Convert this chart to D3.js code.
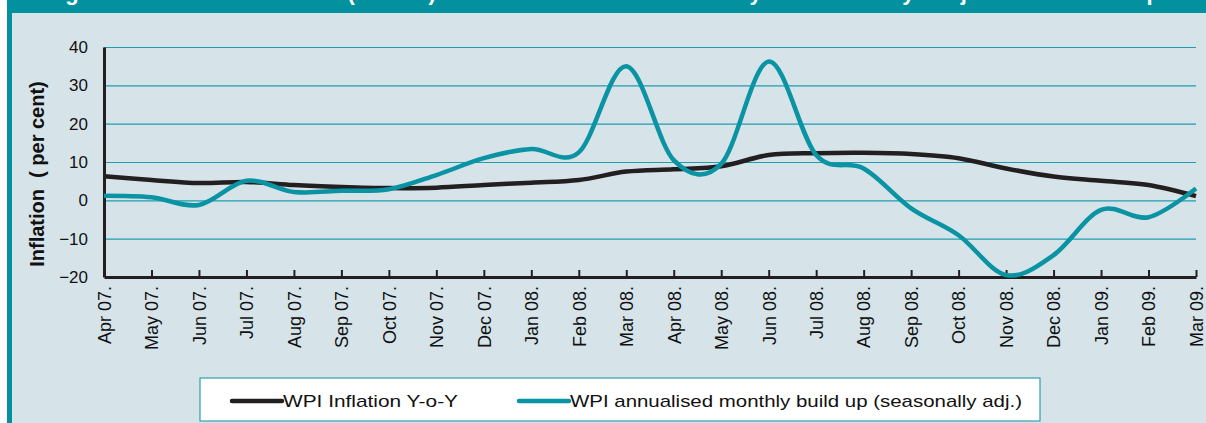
<!DOCTYPE html>
<html>
<head>
<meta charset="utf-8">
<script src="https://cdn.jsdelivr.net/npm/d3@7"></script>
<style>
  body { margin: 0; background: #ffffff; }
  svg { display: block; font-family: Arial, "Liberation Sans", sans-serif; }
</style>
</head>
<body>
<script>
// Chart data
var months = ["Apr 07.", "May 07.", "Jun 07.", "Jul 07.", "Aug 07.", "Sep 07.", "Oct 07.", "Nov 07.",
  "Dec 07.", "Jan 08.", "Feb 08.", "Mar 08.", "Apr 08.", "May 08.", "Jun 08.", "Jul 08.", "Aug 08.",
  "Sep 08.", "Oct 08.", "Nov 08.", "Dec 08.", "Jan 09.", "Feb 09.", "Mar 09."];

var wpiYoY = [6.3, 5.3, 4.5, 4.8, 4.0, 3.5, 3.2, 3.3, 4.0, 4.6, 5.3, 7.5,
  8.1, 8.9, 11.8, 12.3, 12.4, 12.1, 11.0, 8.3, 6.2, 5.1, 4.0, 1.1];

var wpiBuildUp = [1.2, 0.8, -1.2, 5.1, 2.2, 2.5, 2.9, 6.6, 11.0, 13.4, 12.5, 35.0,
  10.5, 9.5, 36.2, 11.8, 8.3, -2.1, -9.1, -19.5, -14.3, -2.5, -4.4, 3.1];

var yTicks = [40, 30, 20, 10, 0, -10, -20];
var seriesNames = ["WPI Inflation Y-o-Y", "WPI annualised monthly build up (seasonally adj.)"];
var titleText = "Figure 1: WPI Inflation (Y-o-Y) and Annualised Monthly Seasonally Adjusted Build up";

// Chart Params
var svgWidth = 1206;
var svgHeight = 423;
var margin = { top: 47, right: 10, bottom: 146, left: 104 };
var width = 1092;
var height = 230;

var teal = "#03909f";
var tealLine = "#0a93a3";
var gridColor = "#1f9cad";

var svg = d3.select("body")
  .append("svg")
  .attr("width", svgWidth)
  .attr("height", svgHeight);

// backdrop, frame and title bar (title is cut off at the top, as in the source)
svg.append("rect")
  .attr("x", 7).attr("y", 0)
  .attr("width", svgWidth - 7).attr("height", svgHeight)
  .attr("fill", "#d6e4ea");

svg.append("rect")
  .attr("x", 7).attr("y", 0)
  .attr("width", 5).attr("height", svgHeight)
  .attr("fill", teal);

svg.append("clipPath").attr("id", "titleClip")
  .append("rect").attr("x", 7).attr("y", 0).attr("width", svgWidth - 7).attr("height", 13);

var titleGroup = svg.append("g").attr("clip-path", "url(#titleClip)");
titleGroup.append("rect")
  .attr("x", 7).attr("y", 0)
  .attr("width", svgWidth - 7).attr("height", 13)
  .attr("fill", teal);
titleGroup.append("text")
  .attr("x", 40).attr("y", 0)
  .attr("fill", "#ffffff")
  .style("font-size", "22px")
  .style("font-weight", "bold")
  .attr("textLength", 1120)
  .attr("lengthAdjust", "spacing")
  .text(titleText);

var chartGroup = svg.append("g")
  .attr("transform", `translate(${margin.left}, ${margin.top})`);

// Scales
var xScale = d3.scalePoint().domain(months).range([0, width]);
var yScale = d3.scaleLinear().domain([-20, 40]).range([height, 0]);

// Gridlines
chartGroup.append("g")
  .attr("class", "grid")
  .call(d3.axisLeft(yScale).tickValues(yTicks.filter(d => d > -20)).tickSize(-width).tickFormat(""))
  .call(g => g.select(".domain").remove())
  .call(g => g.selectAll("line").attr("stroke", gridColor).attr("stroke-width", 1.2));

// Y axis
chartGroup.append("g")
  .call(d3.axisLeft(yScale).tickValues(yTicks).tickSize(0).tickPadding(16))
  .call(g => g.select(".domain").attr("stroke", "#231f20").attr("stroke-width", 3))
  .call(g => g.selectAll("text").attr("fill", "#111").style("font-size", "17px"));

// X axis, ticks pointing up
chartGroup.append("g")
  .attr("transform", `translate(0, ${height})`)
  .call(d3.axisBottom(xScale).tickSizeInner(-7).tickSizeOuter(0).tickPadding(0))
  .call(g => g.select(".domain").attr("stroke", "#231f20").attr("stroke-width", 3))
  .call(g => g.selectAll(".tick line").attr("stroke", "#231f20").attr("stroke-width", 2))
  .call(g => g.selectAll("text")
    .attr("fill", "#111")
    .style("font-size", "18px")
    .attr("text-anchor", "end")
    .attr("dy", "0.35em")
    .attr("transform", "translate(0, 9) rotate(-90)")
    .attr("y", 0).attr("x", 0));

// Lines
var line = d3.line()
  .x((d, i) => xScale(months[i]))
  .y(d => yScale(d))
  .curve(d3.curveCardinal.tension(0));

chartGroup.append("path")
  .attr("d", line(wpiYoY))
  .attr("fill", "none")
  .attr("stroke", "#231f20")
  .attr("stroke-width", 4.5);

chartGroup.append("path")
  .attr("d", line(wpiBuildUp))
  .attr("fill", "none")
  .attr("stroke", tealLine)
  .attr("stroke-width", 4.5);

// Y axis title
svg.append("text")
  .attr("transform", "translate(44, 174) rotate(-90)")
  .attr("text-anchor", "middle")
  .attr("fill", "#111")
  .style("font-size", "20px")
  .style("font-weight", "bold")
  .style("white-space", "pre")
  .text("Inflation  ( per cent)");

// Legend
var legend = svg.append("g");
legend.append("rect")
  .attr("x", 200).attr("y", 378)
  .attr("width", 840).attr("height", 43)
  .attr("fill", "#ffffff")
  .attr("stroke", "#2aa0b0")
  .attr("stroke-width", 1.2);

var legendItems = [
  { name: seriesNames[0], color: "#231f20", x: 232, w: 175 },
  { name: seriesNames[1], color: tealLine, x: 519, w: 452 }
];

legendItems.forEach(function(item) {
  legend.append("line")
    .attr("x1", item.x).attr("x2", item.x + 50)
    .attr("y1", 401).attr("y2", 401)
    .attr("stroke", item.color)
    .attr("stroke-width", 4.5)
    .attr("stroke-linecap", "round");
  legend.append("text")
    .attr("x", item.x + 51).attr("y", 407)
    .attr("fill", "#111")
    .style("font-size", "17px")
    .attr("textLength", item.w)
    .attr("lengthAdjust", "spacingAndGlyphs")
    .text(item.name);
});
</script>
</body>
</html>
